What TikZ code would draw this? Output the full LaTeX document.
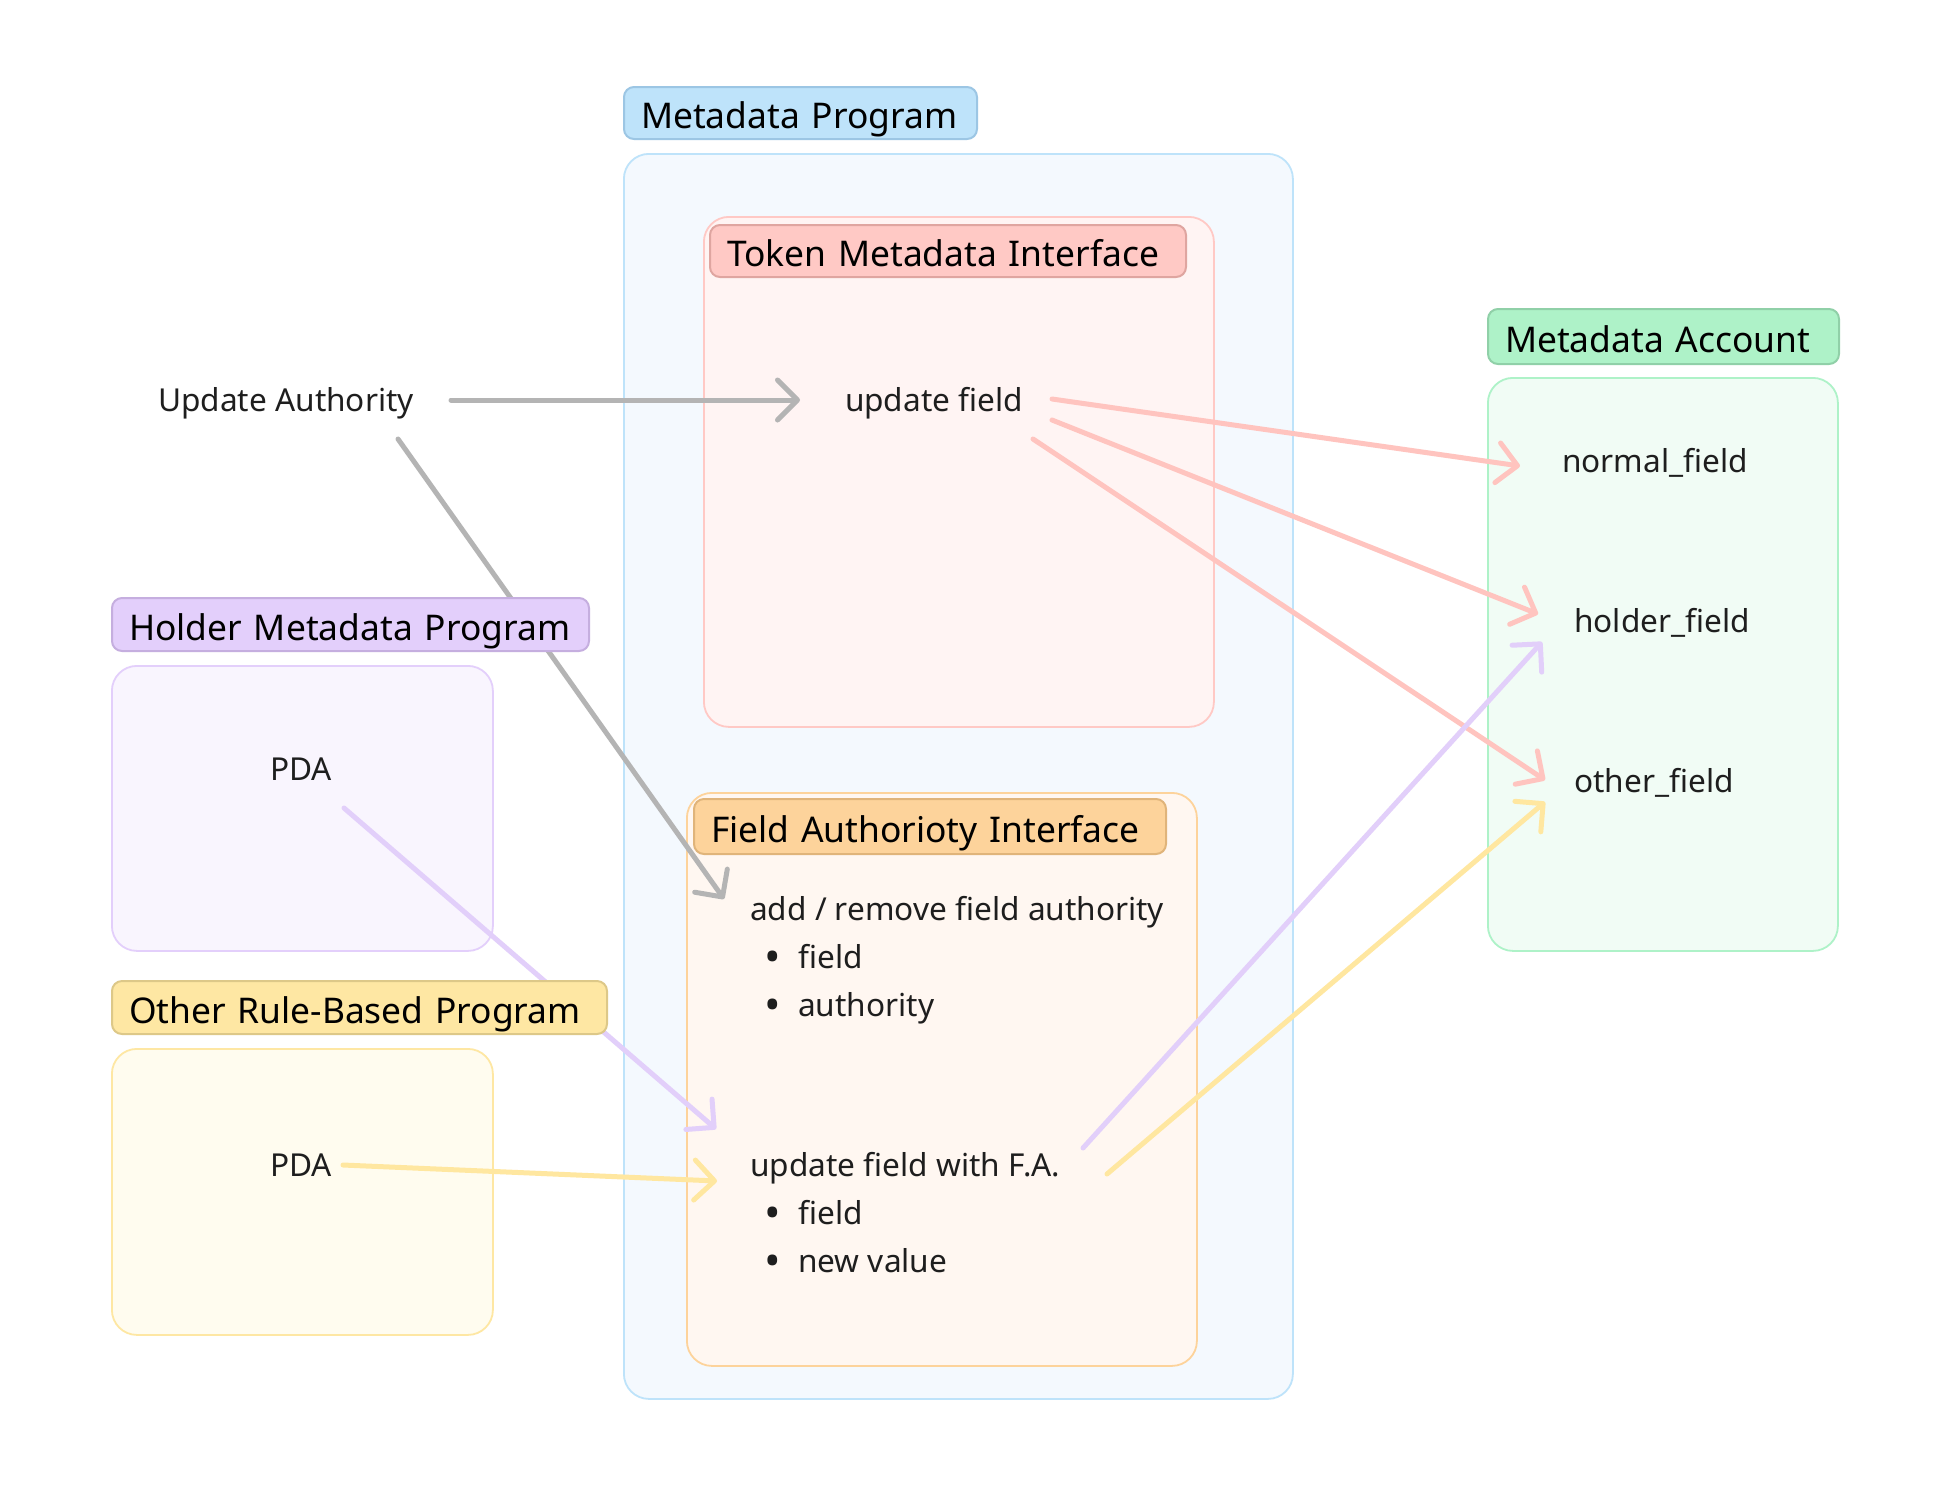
\documentclass[tikz,border=0pt]{standalone}
\usepackage{fontspec}
\setmainfont{Noto Sans}
\usetikzlibrary{arrows.meta,calc}
\definecolor{txtc}{HTML}{1E1E1E}
\definecolor{mpfill}{HTML}{F4F9FE}\definecolor{mpline}{HTML}{BEE3FA}\definecolor{mplfill}{HTML}{BEE3FA}\definecolor{mplline}{HTML}{9CC6E4}
\definecolor{tmfill}{HTML}{FFF4F3}\definecolor{tmline}{HTML}{FFC9C5}\definecolor{tmlfill}{HTML}{FFC9C5}\definecolor{tmlline}{HTML}{DFA5A0}
\definecolor{fafill}{HTML}{FFF7F1}\definecolor{faline}{HTML}{FDD39B}\definecolor{falfill}{HTML}{FDD39B}\definecolor{falline}{HTML}{E0B47A}
\definecolor{hmfill}{HTML}{F9F5FE}\definecolor{hmline}{HTML}{E3CFFB}\definecolor{hmlfill}{HTML}{E3CFFB}\definecolor{hmlline}{HTML}{C5AEDF}
\definecolor{orfill}{HTML}{FFFCEF}\definecolor{orline}{HTML}{FEE7A3}\definecolor{orlfill}{HTML}{FEE7A3}\definecolor{orlline}{HTML}{DDC888}
\definecolor{mafill}{HTML}{F1FCF5}\definecolor{maline}{HTML}{AEF2C8}\definecolor{malfill}{HTML}{AEF2C8}\definecolor{malline}{HTML}{90D0A8}
\definecolor{grayarr}{HTML}{B4B4B4}\definecolor{pinkarr}{HTML}{FFC4BF}\definecolor{purparr}{HTML}{E2CFFA}\definecolor{yelarr}{HTML}{FFE7A0}
\newcommand{\mybul}{\llap{\raisebox{-4pt}{\fontsize{44}{44}\selectfont\textbullet}\hspace{17pt}}}
\begin{document}
\begin{tikzpicture}[x=1pt,y=-1pt,
  body/.style={draw, line width=1.8pt, rounded corners=25pt, anchor=north west, inner sep=0pt},
  lbl/.style={draw, line width=2pt, rounded corners=10pt, anchor=north west, inner xsep=17pt, inner ysep=0pt, align=left, font=\fontsize{35.4}{40}\selectfont, text=black, text height=31pt, text depth=0pt},
  txt/.style={inner sep=0pt, font=\fontsize{31.6}{36}\selectfont, text=txtc, text height=22.5pt, text depth=0pt},
  conn/.style={line width=5pt, line cap=round, -{Straight Barb[length=20pt,width=40pt,line cap=round,line join=round]}}
]
\useasboundingbox[fill=white] (0,0) rectangle (1950,1489);
% containers
\node[body, fill=mpfill, draw=mpline, minimum width=669pt, minimum height=1245pt] (mpbody) at (623,153) {};
\node[body, fill=tmfill, draw=tmline, minimum width=510pt, minimum height=510pt] (tmbody) at (703,216) {};
\node[body, fill=fafill, draw=faline, minimum width=510pt, minimum height=573pt] (fabody) at (686,792) {};
\node[body, fill=hmfill, draw=hmline, minimum width=381pt, minimum height=285pt] (hmbody) at (111,665) {};
\node[body, fill=orfill, draw=orline, minimum width=381pt, minimum height=286pt] (orbody) at (111,1048) {};
\node[body, fill=mafill, draw=maline, minimum width=350pt, minimum height=573pt] (mabody) at (1487,377) {};
% texts
\node[txt] (ua) at (286,400) {Update Authority};
\node[txt] (uf) at (934,400) {update field};
\node[txt, anchor=west] (nf) at (1562,461) {normal\_field};
\node[txt, anchor=west] (hf) at (1574,621) {holder\_field};
\node[txt, anchor=west] (of) at (1574,781) {other\_field};
\node[txt] (pda1) at (301,769) {PDA};
\node[txt] (pda2) at (301,1165) {PDA};
\node[txt, anchor=west] (fa1) at (750,909) {add / remove field authority};
\node[txt, anchor=west] (fa2) at (798,957) {\mybul field};
\node[txt, anchor=west] (fa3) at (798,1005) {\mybul authority};
\node[txt, anchor=west] (ub1) at (750,1165) {update field with F.A.};
\node[txt, anchor=west] (ub2) at (798,1213) {\mybul field};
\node[txt, anchor=west] (ub3) at (798,1261) {\mybul new value};
% connectors
\draw[conn, draw=grayarr] ($(ua.center)+(165,0)$) -- ($(uf.center)+(-134,0)$);
\draw[conn, draw=grayarr] ($(ua.center)+(112,39)$) -- ($(fa1.west)+(-26,-10)$);
\draw[conn, draw=pinkarr] ($(uf.center)+(118,-1)$) -- ($(nf.west)+(-42,5)$);
\draw[conn, draw=pinkarr] ($(uf.center)+(118,20)$) -- ($(hf.west)+(-36,-7)$);
\draw[conn, draw=pinkarr] ($(uf.center)+(99,39)$) -- ($(of.west)+(-29,-1)$);
\draw[conn, draw=purparr] ($(pda1.center)+(43,39)$) -- ($(ub1.west)+(-34,-36)$);
\draw[conn, draw=yelarr] ($(pda2.center)+(42,0)$) -- ($(ub1.west)+(-33,16)$);
\draw[conn, draw=purparr] ($(ub1.west)+(333,-17)$) -- ($(hf.west)+(-32,21)$);
\draw[conn, draw=yelarr] ($(ub1.west)+(357,9)$) -- ($(of.west)+(-29,21)$);
% labels
\node[lbl, fill=mplfill, draw=mplline, text width=319pt, minimum height=52pt] (mplbl) at (623,86) {Metadata Program};
\node[lbl, fill=tmlfill, draw=tmlline, text width=442pt, minimum height=52pt] (tmlbl) at (709,224) {Token Metadata Interface};
\node[lbl, fill=falfill, draw=falline, text width=438pt, minimum height=55pt] (falbl) at (693,798) {Field Authorioty Interface};
\node[lbl, fill=hmlfill, draw=hmlline, text width=443pt, minimum height=53pt] (hmlbl) at (111,597) {Holder Metadata Program};
\node[lbl, fill=orlfill, draw=orlline, text width=461pt, minimum height=53pt] (orlbl) at (111,980) {Other Rule-Based Program};
\node[lbl, fill=malfill, draw=malline, text width=317pt, minimum height=55pt] (malbl) at (1487,308) {Metadata Account};
\end{tikzpicture}
\end{document}
